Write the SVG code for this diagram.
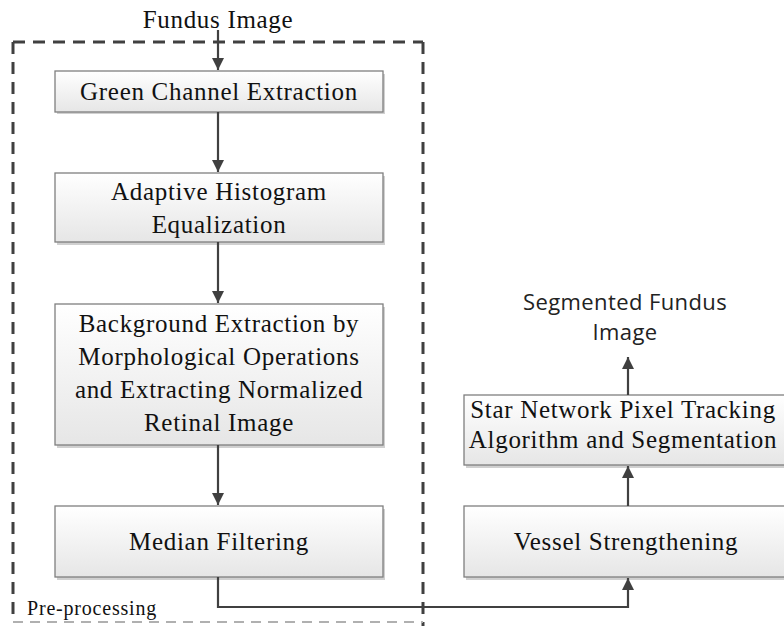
<svg xmlns="http://www.w3.org/2000/svg" width="784" height="626" viewBox="0 0 784 626">
<defs>
<linearGradient id="g" x1="0" y1="0" x2="0" y2="1">
<stop offset="0" stop-color="#ffffff"/>
<stop offset="1" stop-color="#e6e6e6"/>
</linearGradient>
<marker id="a" markerWidth="14" markerHeight="14" refX="12" refY="6" orient="auto" markerUnits="userSpaceOnUse">
<path d="M0,0 L12,6 L0,12 Z" fill="#404040"/>
</marker>
<style>
.box{fill:url(#g);stroke:#7f7f7f;stroke-width:1.3}
.sh{fill:#d0d0d0}
.t{font-family:"Liberation Serif","Times New Roman",serif;font-size:25px;letter-spacing:0.7px;fill:#111;text-anchor:middle}
.s{font-family:"Open Sans","Noto Sans",sans-serif;font-size:22px;letter-spacing:0.4px;fill:#222;text-anchor:middle}
.c{fill:none;stroke:#404040;stroke-width:2.2}
</style>
</defs>
<rect width="784" height="626" fill="#fff"/>
<g id="preprocessing">
<path d="M13,42 H423 M423,42 V626 M13,42 V622" fill="none" stroke="#404040" stroke-width="3" stroke-dasharray="12,8"/>
<path d="M13,622 H423" fill="none" stroke="#b0b0b0" stroke-width="2" stroke-dasharray="10,7"/>
<text x="27" y="615" style="font-family:'Liberation Serif',serif;font-size:20px;letter-spacing:0.8px;fill:#111">Pre-processing</text>
</g>
<g id="input">
<text class="t" x="218" y="28">Fundus Image</text>
</g>
<g id="green">
<rect class="sh" x="57" y="74" width="328" height="40"/>
<rect class="box" x="55" y="71" width="328" height="41"/>
<text class="t" x="219" y="100">Green Channel Extraction</text>
</g>
<g id="ahe">
<rect class="sh" x="57" y="176" width="328" height="69"/>
<rect class="box" x="55" y="173" width="328" height="69"/>
<text class="t" x="219" y="200">Adaptive Histogram</text>
<text class="t" x="219" y="233">Equalization</text>
</g>
<g id="background">
<rect class="sh" x="57" y="307" width="328" height="141"/>
<rect class="box" x="55" y="304" width="328" height="141"/>
<text class="t" x="219" y="332">Background Extraction by</text>
<text class="t" x="219" y="365">Morphological Operations</text>
<text class="t" x="219" y="398">and Extracting Normalized</text>
<text class="t" x="219" y="431">Retinal Image</text>
</g>
<g id="median">
<rect class="sh" x="57" y="509" width="328" height="71"/>
<rect class="box" x="55" y="506" width="328" height="71"/>
<text class="t" x="219" y="550">Median Filtering</text>
</g>
<g id="vessel">
<rect class="sh" x="466" y="509" width="330" height="71"/>
<rect class="box" x="464" y="506" width="330" height="71"/>
<text class="t" x="626" y="550">Vessel Strengthening</text>
</g>
<g id="star">
<rect class="sh" x="466" y="398" width="330" height="70"/>
<rect class="box" x="464" y="395" width="330" height="70"/>
<text class="t" x="623" y="418">Star Network Pixel Tracking</text>
<text class="t" x="623" y="448">Algorithm and Segmentation</text>
</g>
<g id="output">
<text class="s" x="625" y="310">Segmented Fundus</text>
<text class="s" x="625" y="340">Image</text>
</g>
<g id="connectors">
<path class="c" d="M218,30 V70" marker-end="url(#a)"/>
<path class="c" d="M218,112 V172" marker-end="url(#a)"/>
<path class="c" d="M218,242 V303" marker-end="url(#a)"/>
<path class="c" d="M218,445 V505" marker-end="url(#a)"/>
<path class="c" d="M218,577 V607 H628 V578" marker-end="url(#a)"/>
<path class="c" d="M628,506 V466" marker-end="url(#a)"/>
<path class="c" d="M628,395 V357" marker-end="url(#a)"/>
</g>
</svg>
